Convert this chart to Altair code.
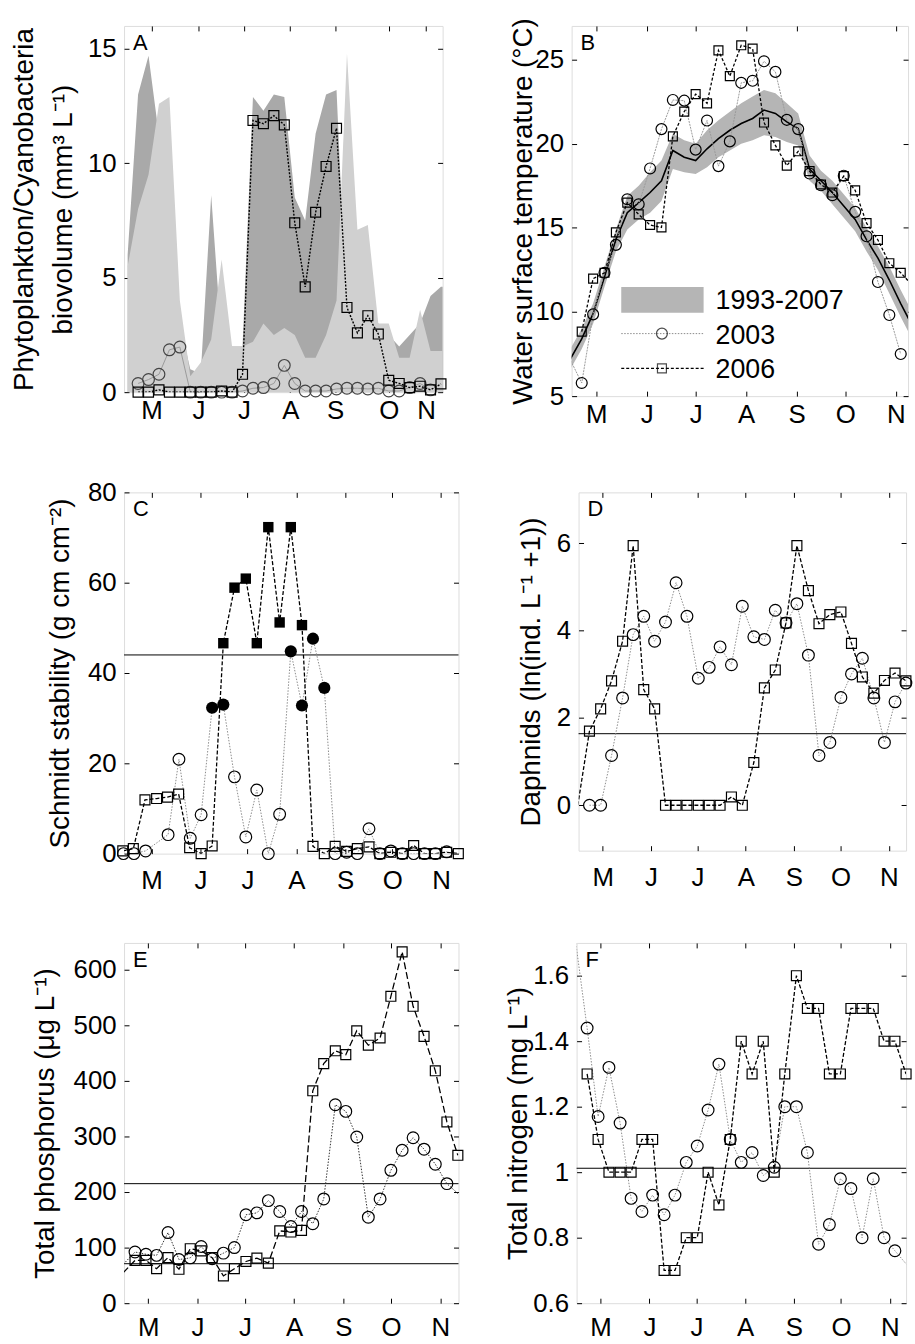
import altair as alt
import pandas as pd

FONT = "Liberation Sans"
TICK_FS = 26
TITLE_FS = 28
LETTER_FS = 22

MONTHS = ["M", "J", "J", "A", "S", "O", "N"]
MONTH_DAYS = [121, 152, 182, 213, 244, 274, 305]
A_MONTH_DAYS = [121, 152.5, 183, 214, 244, 280, 305]

LEGEND_LABELS = ["1993-2007", "2003", "2006"]

# ---------------- Panel A : biovolume ----------------
A_DAYS = [112, 119, 126, 133, 140, 147, 154, 161, 168, 175, 182, 189, 196, 203, 210,
          217, 224, 231, 238, 245, 252, 259, 266, 273, 280, 287, 294, 301, 308, 315]
A_2003 = [0.38, 0.55, 0.78, 1.85, 1.97, 0.0, 0.0, 0.0, 0.0, 0.0, 0.05, 0.17, 0.2, 0.38, 1.17,
          0.38, 0.05, 0.05, 0.05, 0.14, 0.17, 0.17, 0.14, 0.17, 0.05, 0.05, 0.2, 0.38, 0.1]
A_2006 = [0, 0, 0.1, 0, 0, 0, 0, 0, 0.05, 0, 0.78, 11.87, 11.73, 12.08, 11.68,
          7.4, 4.6, 7.86, 9.86, 11.53, 3.7, 2.59, 3.34, 2.54, 0.52, 0.38, 0.2, 0.26, 0.1, 0.36]
A_SHADE_DAYS = [105, 112, 119, 126, 133, 140, 147, 154, 161, 168, 175, 182, 189, 196, 203, 210,
                217, 224, 231, 238, 245, 252, 259, 266, 273, 280, 287, 294, 301, 308, 315, 317]
A_DARK_TOP = [6.0, 13.0, 14.7, 11.2, 9.0, 3.0, 1.0, 0.8, 8.6, 2.2, 2.0, 2.0, 12.9, 12.3, 13.0, 12.9,
              8.5, 7.5, 11.3, 13.0, 13.2, 3.0, 4.5, 4.0, 3.0, 2.5, 2.0, 2.5, 3.0, 4.2, 4.6, 4.6]
A_LIGHT_TOP = [5.5, 8.0, 9.5, 12.6, 12.9, 4.0, 0.7, 1.3, 2.3, 5.8, 2.0, 2.0, 2.2, 3.0, 2.5, 2.8,
               2.5, 1.5, 1.5, 2.5, 4.0, 14.8, 7.1, 7.3, 3.0, 3.0, 1.5, 1.5, 3.6, 1.8, 1.8, 1.8]

# ---------------- Panel B : water temperature ----------------
B_DAYS = [112, 119, 126, 133, 140, 147, 154, 161, 168, 175, 182, 189, 196, 203, 210,
          217, 224, 231, 238, 245, 252, 259, 266, 273, 280, 287, 294, 301, 308, 315]
B_2006 = [8.83, 11.98, 12.33, 14.73, 16.5, 15.8, 15.17, 15.03, 20.44, 21.91, 22.95, 22.4, 25.55, 24.02, 25.85,
          25.65, 21.26, 19.9, 18.7, 19.55, 18.37, 17.58, 17.1, 18.08, 17.23, 15.28, 14.28, 12.9, 12.33, 11.6]
B_2003_DAYS = [105.3, 112, 119, 126, 133, 140, 147, 154, 161, 168, 175, 182, 189, 196, 203, 210,
               217, 224, 231, 238, 245, 252, 259, 266, 273, 280, 287, 294, 301, 308]
B_2003 = [7.1, 5.78, 9.86, 12.33, 13.99, 16.7, 16.4, 18.53, 20.87, 22.6, 22.56, 19.65, 21.38, 18.67, 20.14, 23.62,
          23.74, 24.9, 24.27, 21.42, 20.87, 18.23, 17.53, 16.94, 18.1, 15.95, 14.5, 11.78, 9.82, 7.5]
B_BAND_DAYS = [105, 112, 119, 126, 133, 140, 147, 154, 161, 168, 175, 182, 189, 196, 203, 210,
               217, 224, 231, 238, 245, 252, 259, 266, 273, 280, 287, 294, 301, 308, 315]
B_MEAN = [7.2, 8.4, 9.9, 12.1, 14.3, 15.9, 16.5, 17.1, 17.8, 19.6, 19.2, 19.0, 19.7, 20.3, 20.8, 21.2,
          21.5, 22.0, 21.8, 21.3, 20.9, 18.5, 17.8, 17.1, 16.3, 15.5, 14.3, 13.2, 11.9, 10.5, 9.2]
B_LOW = [6.6, 7.8, 9.3, 11.5, 13.6, 14.9, 15.5, 15.9, 16.6, 18.5, 18.3, 18.2, 18.6, 19.2, 19.6, 20.0,
         20.2, 20.5, 20.4, 20.1, 19.9, 17.8, 17.2, 16.4, 15.6, 14.8, 13.6, 12.5, 11.1, 9.7, 8.4]
B_HIGH = [7.8, 9.0, 10.5, 12.7, 14.9, 16.9, 17.5, 18.3, 19.0, 20.6, 20.2, 20.0, 20.8, 21.4, 21.9, 22.4,
          22.8, 23.2, 23.0, 22.4, 21.8, 19.3, 18.4, 17.8, 17.0, 16.2, 15.0, 13.9, 12.7, 11.3, 10.0]

# ---------------- Panel C : Schmidt stability ----------------
C_DAYS = [102.7, 109.4, 116.8, 124.2, 131.1, 138.2, 145.2, 152.5, 159.5, 166.6, 173.7, 180.9, 187.9, 195.2,
          202.4, 209.5, 216.6, 223.6, 230.8, 237.7, 245.0, 251.8, 259.2, 266.1, 273.1, 280.4, 287.6, 294.5,
          301.4, 308.6, 316.0]
C_2006 = [0.6, 1.1, 11.9, 12.2, 12.5, 13.2, 1.3, 0, 1.7, 46.6, 58.9, 60.9, 46.6, 72.3,
          51.2, 72.3, 50.6, 1.6, 0, 1.6, 0.5, 1.1, 1.5, 0, 0.3, 0, 1.8, 0, 0, 0.3, 0]
C_2003_DAYS = [103.1, 109.8, 117.2, 131.5, 138.4, 145.6, 152.5, 159.5, 166.6, 173.7, 180.9, 187.9, 195.2,
               202.4, 209.5, 216.6, 223.6, 230.8, 237.7, 245.0, 251.8, 259.2, 266.1, 273.1, 280.4, 287.6,
               294.5, 301.4, 308.6]
C_2003 = [0, 0, 0.6, 4.2, 20.9, 3.4, 8.6, 32.3, 33.0, 17.0, 3.7, 14.1, 0, 8.7, 44.8, 32.8, 47.6, 36.7,
          0, 0.3, 0, 5.5, 0, 0.6, 0, 0, 0, 0, 0.4]
C_LINE = [44]

# ---------------- Panel D : Daphnids ----------------
D_DAYS = [112.5, 119.7, 126.7, 133.8, 140.6, 147.4, 154.4, 161.4, 168.2, 175.2, 182.5, 189.5, 196.5, 203.8,
          210.8, 218.2, 225.0, 232.0, 238.9, 245.9, 253.3, 260.1, 267.1, 274.2, 281.0, 288.0, 295.4, 302.2,
          309.0, 316.0]
D_2006_DAYS = [105.0] + D_DAYS
D_2006 = [0, 1.70, 2.21, 2.85, 3.76, 5.95, 2.65, 2.21, 0, 0, 0, 0, 0, 0, 0.19, 0, 0.98, 2.69, 3.10, 4.18,
          5.95, 4.92, 4.16, 4.37, 4.43, 3.71, 2.94, 2.57, 2.86, 3.03, 2.85]
D_2003 = [0, 0, 1.14, 2.46, 3.91, 4.33, 3.76, 4.2, 5.1, 4.33, 2.91, 3.16, 3.63, 3.22, 4.56, 3.86, 3.80,
          4.47, 4.18, 4.62, 3.44, 1.14, 1.44, 2.47, 3.01, 3.37, 2.46, 1.44, 2.37, 2.8]
D_LINE = [1.64]

# ---------------- Panel E : total phosphorus ----------------
E_DAYS = [112.7, 119.6, 126.3, 133.5, 140.4, 147.5, 154.4, 161.3, 168.4, 175.3, 182.6, 189.5, 196.7, 203.9,
          210.9, 217.6, 224.7, 231.6, 238.9, 245.5, 252.4, 259.7, 267.1, 273.9, 281.0, 287.9, 294.8, 301.9,
          309.2, 316.1]
E_2006_DAYS = [105.3] + E_DAYS
E_2006 = [55, 77, 77, 62, 82, 61, 98, 94, 82, 49, 62, 75, 81, 72, 130, 128, 131, 382, 431, 454, 447, 490,
          464, 477, 552, 632, 534, 480, 418, 326, 266]
E_2003_DAYS = [105.3] + E_DAYS[:29] + [319]
E_2003 = [70, 92, 88, 86, 127, 78.5, 81.5, 102, 80, 90, 100, 159, 162.5, 184.5, 165, 138, 165, 143, 187.5,
          357, 345, 299, 154.7, 187.5, 239, 275, 297.5, 277, 250, 215, 190]
E_LINES = [215, 71]

# ---------------- Panel F : total nitrogen ----------------
F_DAYS = [112.4, 119.4, 126.3, 133.4, 140.4, 147.3, 154.1, 161.4, 168.3, 175.5, 182.5, 189.4, 196.3, 203.5,
          210.5, 217.4, 224.5, 231.5, 238.2, 245.6, 252.6, 259.7, 266.6, 273.6, 280.3, 287.4, 294.5, 301.4,
          308.3, 315.4]
F_2006 = [1.30, 1.10, 1.00, 1.00, 1.00, 1.10, 1.10, 0.70, 0.70, 0.80, 0.80, 1.00, 0.90, 1.10, 1.40, 1.30,
          1.40, 1.00, 1.30, 1.60, 1.50, 1.50, 1.30, 1.30, 1.50, 1.50, 1.50, 1.40, 1.40, 1.30]
F_2003_DAYS = [105.2] + F_DAYS[:29] + [319]
F_2003 = [1.70, 1.44, 1.17, 1.32, 1.15, 0.92, 0.88, 0.93, 0.87, 0.93, 1.03, 1.08, 1.19, 1.33, 1.10, 1.03,
          1.06, 0.99, 1.015, 1.20, 1.20, 1.06, 0.78, 0.84, 0.98, 0.95, 0.80, 0.98, 0.80, 0.76, 0.70]
F_LINE = [1.012]


def month_expr(ticks):
    expr = "''"
    for t, m in reversed(list(zip(ticks, MONTHS))):
        expr = f"(abs(datum.value - {t}) < 0.01) ? '{m}' : ({expr})"
    return expr


class Ctx:
    def __init__(self, xdom, ydom, margin):
        self.xs = alt.Scale(domain=list(xdom), nice=False, zero=False)
        self.ys = alt.Scale(domain=list(ydom), nice=False, zero=False)
        self.lo = xdom[0] - margin
        self.hi = xdom[1] + margin

    def X(self):
        return alt.X("day:Q", scale=self.xs, axis=None)

    def Y(self, f="val"):
        return alt.Y(f"{f}:Q", scale=self.ys, axis=None)

    def line(self, days, vals, color, dash=None, width=1.2):
        df = pd.DataFrame({"day": days, "val": vals})
        kw = dict(color=color, strokeWidth=width, clip=True)
        if dash:
            kw["strokeDash"] = dash
        return alt.Chart(df).mark_line(**kw).encode(x=self.X(), y=self.Y())

    def points(self, days, vals, shape, size, color, filled=False, where=None, sw=1.2):
        df = pd.DataFrame({"day": days, "val": vals})
        ch = alt.Chart(df).transform_filter(f"datum.day >= {self.lo} && datum.day <= {self.hi}")
        if where:
            ch = ch.transform_filter(where)
        return ch.mark_point(shape=shape, size=size, filled=filled, color=color,
                             strokeWidth=sw, opacity=1).encode(x=self.X(), y=self.Y())

    def band(self, days, lo, hi, color):
        df = pd.DataFrame({"day": days, "lo": lo, "hi": hi})
        return alt.Chart(df).mark_area(color=color, opacity=1, clip=True).encode(
            x=self.X(), y=self.Y("hi"), y2=alt.Y2("lo"))

    def hline(self, vals):
        df = pd.DataFrame({"val": vals})
        return alt.Chart(df).mark_rule(color="black", strokeWidth=1).encode(y=self.Y())


def build_panel(ctx, layers, xdom, ydom, w, h, xticks, yticks, yfmt, title, title_x, letter,
                title_lh=None, xpad=6):
    frame = pd.DataFrame({"day": list(xdom), "val": list(ydom)})
    common = dict(offset=-5, tickSize=5, domain=False, grid=False, tickColor="black",
                  tickWidth=1, labelOverlap=False)
    bottom = alt.Axis(orient="bottom", values=xticks, labelExpr=month_expr(xticks), title=None,
                      labelFont=FONT, labelFontSize=TICK_FS, labelColor="black", labelPadding=xpad,
                      labelFlush=False, **common)
    lk = dict(orient="left", values=yticks, format=yfmt, title=title, titleX=title_x,
              titleBaseline="alphabetic", titleFont=FONT, titleFontSize=TITLE_FS,
              titleFontWeight="normal", titleColor="black", labelFont=FONT, labelFontSize=TICK_FS,
              labelColor="black", labelPadding=8, **common)
    if title_lh:
        lk["titleLineHeight"] = title_lh
    left = alt.Axis(**lk)
    top = alt.Axis(orient="top", values=xticks, labels=False, title=None, **common)
    right = alt.Axis(orient="right", values=yticks, labels=False, title=None, **common)
    ax1 = alt.Chart(frame).mark_point(opacity=0).encode(
        x=alt.X("day:Q", scale=ctx.xs, axis=bottom), y=alt.Y("val:Q", scale=ctx.ys, axis=left))
    ax2 = alt.Chart(frame).mark_point(opacity=0).encode(
        x=alt.X("day:Q", scale=ctx.xs, axis=top), y=alt.Y("val:Q", scale=ctx.ys, axis=right))
    let = alt.Chart(pd.DataFrame({"t": [letter]})).mark_text(
        align="left", baseline="top", font=FONT, fontSize=LETTER_FS, color="black").encode(
        text="t:N", x=alt.value(9), y=alt.value(7))
    return alt.layer(*layers, let, ax1, ax2).properties(width=w, height=h).resolve_axis(
        x="independent", y="independent")


GRAY_LINE = "#8c8c8c"
DOT = [1.5, 1.5]

# ---- A
xa, ya = (102.6, 316.1), (0, 16)
ca = Ctx(xa, ya, 0.3)
A_LO = [0] * len(A_SHADE_DAYS)
panel_a = build_panel(ca, [
    ca.band(A_SHADE_DAYS, A_LO, A_DARK_TOP, "#a9a9a9"),
    ca.band(A_SHADE_DAYS, A_LO, A_LIGHT_TOP, "#d0d0d0"),
    ca.line(A_DAYS[:len(A_2003)], A_2003, "#9a9a9a", None, 1),
    ca.line(A_DAYS, A_2006, "black", [2, 1.5], 1.4),
    ca.points(A_DAYS[:len(A_2003)], A_2003, "circle", 140, "#444444"),
    ca.points(A_DAYS, A_2006, "square", 100, "black"),
], xa, ya, 321, 369, A_MONTH_DAYS, [0, 5, 10, 15], "d",
    ["Phytoplankton/Cyanobacteria", "biovolume (mm³ L⁻¹)"], -97, "A", title_lh=39, xpad=6)

# ---- B
xb, yb = (105.8, 312.5), (5, 27)
cb = Ctx(xb, yb, 0.3)
leg_df = pd.DataFrame({"t": [0]})
leg_layers = [
    alt.Chart(leg_df).mark_rect(color="#b5b5b5").encode(
        x=alt.value(50), x2=alt.value(133), y=alt.value(263), y2=alt.value(289)),
    alt.Chart(leg_df).mark_rule(color=GRAY_LINE, strokeDash=DOT, strokeWidth=1).encode(
        x=alt.value(50), x2=alt.value(133), y=alt.value(310)),
    alt.Chart(leg_df).mark_point(shape="circle", size=121, color="black", strokeWidth=1.2).encode(
        x=alt.value(91), y=alt.value(310)),
    alt.Chart(leg_df).mark_rule(color="black", strokeDash=[3, 2], strokeWidth=1.3).encode(
        x=alt.value(50), x2=alt.value(133), y=alt.value(345)),
    alt.Chart(leg_df).mark_point(shape="square", size=81, color="black", strokeWidth=1.2).encode(
        x=alt.value(91), y=alt.value(345)),
]
for lab, yy in zip(LEGEND_LABELS, [285, 320, 355]):
    leg_layers.append(alt.Chart(pd.DataFrame({"t": [lab]})).mark_text(
        align="left", baseline="alphabetic", font=FONT, fontSize=27, color="black").encode(
        text="t:N", x=alt.value(145), y=alt.value(yy)))
panel_b = build_panel(cb, [
    cb.band(B_BAND_DAYS, B_LOW, B_HIGH, "#b5b5b5"),
    cb.line(B_BAND_DAYS, B_MEAN, "black", None, 1.6),
    cb.line(B_2003_DAYS, B_2003, "#9a9a9a", [2, 1], 1),
    cb.line(B_DAYS, B_2006, "black", [3, 2], 1.3),
    cb.points(B_2003_DAYS, B_2003, "circle", 121, "black"),
    cb.points(B_DAYS, B_2006, "square", 81, "black"),
] + leg_layers, xb, yb, 339, 373, MONTH_DAYS, [5, 10, 15, 20, 25], "d",
    "Water surface temperature  (°C)", -45, "B", xpad=6)

# ---- C
xc, yc = (103.5, 316.1), (0, 80)
cc = Ctx(xc, yc, 1.0)
panel_c = build_panel(cc, [
    cc.hline(C_LINE),
    cc.line(C_2003_DAYS, C_2003, GRAY_LINE, DOT, 1),
    cc.line(C_DAYS, C_2006, "black", [4, 2], 1.3),
    cc.points(C_2003_DAYS, C_2003, "circle", 140, "black", where="datum.val <= 30"),
    cc.points(C_2003_DAYS, C_2003, "circle", 150, "black", filled=True, where="datum.val > 30"),
    cc.points(C_DAYS, C_2006, "square", 100, "black", where="datum.val <= 30"),
    cc.points(C_DAYS, C_2006, "square", 110, "black", filled=True, where="datum.val > 30"),
], xc, yc, 337, 364, MONTH_DAYS, [0, 20, 40, 60, 80], "d",
    "Schmidt stability  (g cm cm⁻²)", -61, "C", xpad=14)

# ---- D
xd, yd = (105.5, 316.1), (-1.04, 7.17)
cd = Ctx(xd, yd, 0.3)
panel_d = build_panel(cd, [
    cd.hline(D_LINE),
    cd.line(D_DAYS, D_2003, GRAY_LINE, DOT, 1),
    cd.line(D_2006_DAYS, D_2006, "black", [4, 2], 1.3),
    cd.points(D_DAYS, D_2003, "circle", 140, "black"),
    cd.points(D_2006_DAYS, D_2006, "square", 100, "black"),
], xd, yd, 330, 361, MONTH_DAYS, [0, 2, 4, 6], "d",
    "Daphnids (ln(ind. L⁻¹ +1))", -44, "D", xpad=14)

# ---- E
xe, ye = (105.8, 316.5), (0, 648)
ce = Ctx(xe, ye, 0.3)
panel_e = build_panel(ce, [
    ce.hline(E_LINES),
    ce.line(E_2003_DAYS, E_2003, "#333333", DOT, 1),
    ce.line(E_2006_DAYS, E_2006, "black", [7, 3], 1.3),
    ce.points(E_2003_DAYS, E_2003, "circle", 140, "black"),
    ce.points(E_2006_DAYS, E_2006, "square", 100, "black"),
], xe, ye, 337, 363, MONTH_DAYS, [0, 100, 200, 300, 400, 500, 600], "d",
    "Total phosphorus (μg L⁻¹)", -76, "E", xpad=12)

# ---- F
xf, yf = (105.7, 315.4), (0.6, 1.7)
cf = Ctx(xf, yf, 0.3)
panel_f = build_panel(cf, [
    cf.hline(F_LINE),
    cf.line(F_2003_DAYS, F_2003, GRAY_LINE, DOT, 1),
    cf.line(F_DAYS, F_2006, "black", [4, 2], 1.3),
    cf.points(F_2003_DAYS, F_2003, "circle", 140, "black"),
    cf.points(F_DAYS, F_2006, "square", 100, "black"),
], xf, yf, 332, 363, MONTH_DAYS, [0.6, 0.8, 1.0, 1.2, 1.4, 1.6], "~g",
    "Total nitrogen (mg L⁻¹)", -55, "F", xpad=12)

row1 = alt.hconcat(panel_a, panel_b, spacing=130, bounds="flush")
row2 = alt.hconcat(panel_c, panel_d, spacing=121, bounds="flush")
row3 = alt.hconcat(panel_e, panel_f, spacing=119, bounds="flush")
upper = alt.vconcat(row1, row2, spacing=50)
chart = alt.vconcat(upper, row3, spacing=45).properties(
    padding={"left": 10, "top": 8, "right": 0, "bottom": 0},
    background="white",
).configure_view(stroke="black", strokeWidth=1).configure(font=FONT)

chart.save("out.html", embed_options={"renderer": "svg", "actions": False})
